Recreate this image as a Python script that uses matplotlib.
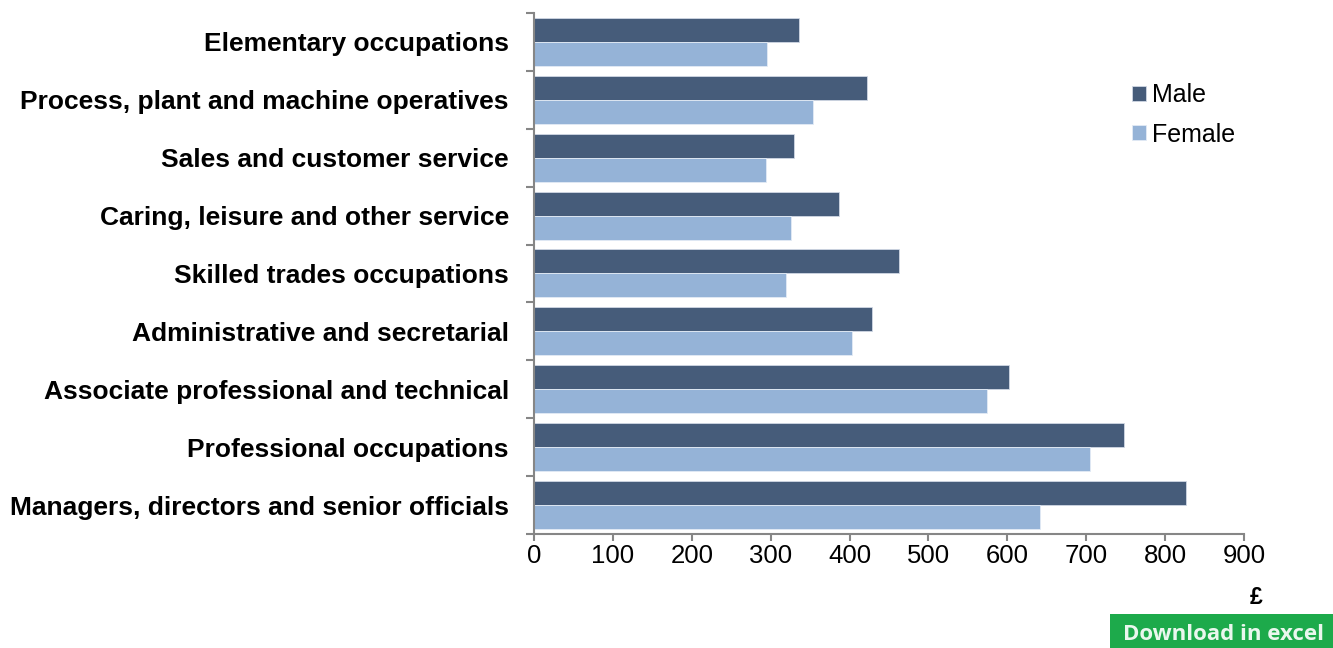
import matplotlib.pyplot as plt
from matplotlib.patches import Rectangle
import numpy as np

plt.rcParams["font.family"] = ["Liberation Sans", "DejaVu Sans"]

# Weekly earnings by occupation (bottom to top as drawn)
occupations = [
    "Managers, directors and senior officials",
    "Professional occupations",
    "Associate professional and technical",
    "Administrative and secretarial",
    "Skilled trades occupations",
    "Caring, leisure and other service",
    "Sales and customer service",
    "Process, plant and machine operatives",
    "Elementary occupations",
]
male = [827, 748, 602, 428, 463, 387, 330, 422, 336]
female = [642, 705, 574, 403, 320, 326, 294, 354, 295]
x_ticks = [0, 100, 200, 300, 400, 500, 600, 700, 800, 900]

male_color = "#465C7A"
female_color = "#95B3D7"
axis_grey = "#868686"

fig = plt.figure(figsize=(13.33, 6.48), dpi=100)
ax = fig.add_axes([0.4006, 0.176, 0.5326, 0.804])

y = np.arange(len(occupations))
h = 0.415
ax.barh(y + h / 2, male, height=h, color=male_color, edgecolor="#D0D8E4",
        linewidth=0.6, label="Male")
ax.barh(y - h / 2, female, height=h, color=female_color, edgecolor="#E3EBF5",
        linewidth=0.6, label="Female")

ax.set_xlim(0, 900)
ax.set_ylim(-0.5, len(occupations) - 0.5)
ax.set_xticks(x_ticks)
ax.set_xticklabels([str(v) for v in x_ticks], fontsize=18.5)

ax.set_yticks(y)
ax.set_yticklabels(occupations, fontsize=19, fontweight="bold")
ax.tick_params(axis="y", which="major", length=0, pad=18)
ax.set_yticks(np.arange(-0.5, len(occupations)), minor=True)
ax.tick_params(axis="y", which="minor", length=6, width=1.5, color=axis_grey)
ax.tick_params(axis="x", length=5, width=1.5, color=axis_grey, pad=2)

for side in ["top", "right"]:
    ax.spines[side].set_visible(False)
for side in ["left", "bottom"]:
    ax.spines[side].set_color(axis_grey)
    ax.spines[side].set_linewidth(1.5)

fig.text(1256 / 1333, 1 - 597 / 648, "£", ha="center", va="center",
         fontsize=16.5, fontweight="bold")

leg = ax.legend(loc="upper left", bbox_to_anchor=(1109 / 1333, 1 - 61 / 648),
                bbox_transform=fig.transFigure, frameon=False,
                fontsize=18, handlelength=0.56, handleheight=0.56,
                handletextpad=0.25, labelspacing=0.6)

# green "Download in excel" button at the bottom right
fig.patches.append(Rectangle((1110 / 1333, 0), 1 - 1110 / 1333, 34 / 648,
                             transform=fig.transFigure, facecolor="#1DAA4B",
                             edgecolor="none"))
fig.text(1123 / 1333, 13 / 648, "Download in excel", ha="left", va="center",
         fontsize=16, fontweight="bold", color="#EAF7EE",
         family=["Open Sans", "DejaVu Sans"])

fig.savefig("out.png", dpi=100)
